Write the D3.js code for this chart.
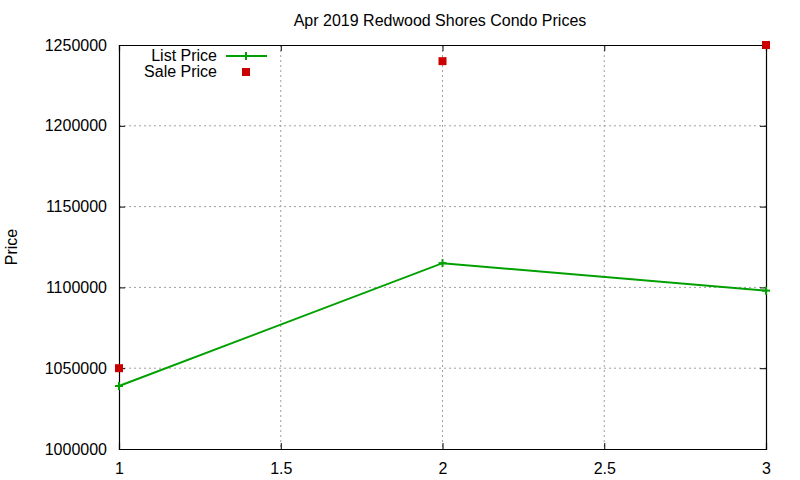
<!DOCTYPE html>
<html>
<head>
<meta charset="utf-8">
<script src="https://cdn.jsdelivr.net/npm/d3@7"></script>
<style>
  body { margin: 0; background: #fff; }
  text { font-family: "Liberation Sans", Arial, sans-serif; fill: #000; }
</style>
</head>
<body>
<svg id="chart" width="800" height="480"></svg>
<script>
const title = 'Apr 2019 Redwood Shores Condo Prices';
const xValues = [1, 2, 3];
const listPrice = [1039000, 1115000, 1098000];
const salePrice = [1050000, 1240000, 1250000];
const xTicks = [1, 1.5, 2, 2.5, 3];
const yTicks = [1000000, 1050000, 1100000, 1150000, 1200000, 1250000];

const margin = { top: 45, right: 34, bottom: 31, left: 119 };
const width = 800 - margin.left - margin.right;
const height = 480 - margin.top - margin.bottom;

const svg = d3.select('#chart');
const g = svg.append('g').attr('transform', `translate(${margin.left},${margin.top})`);

const x = d3.scaleLinear().domain([1, 3]).range([0, width]);
const y = d3.scaleLinear().domain([1000000, 1250000]).range([height, 0]);

// grid
g.selectAll('.vgrid').data(xTicks.slice(1, -1)).join('line')
  .attr('x1', d => x(d)).attr('x2', d => x(d))
  .attr('y1', 0).attr('y2', height)
  .attr('stroke', '#a0a0a0').attr('stroke-dasharray', '2,3');
g.selectAll('.hgrid').data(yTicks.slice(1, -1)).join('line')
  .attr('y1', d => y(d)).attr('y2', d => y(d))
  .attr('x1', 0).attr('x2', width)
  .attr('stroke', '#a0a0a0').attr('stroke-dasharray', '2,3');

// axes with inward ticks, mirrored
const fmt = d3.format('d');
g.append('g').attr('transform', `translate(0,${height})`)
  .call(d3.axisBottom(x).tickValues(xTicks).tickSize(-6).tickPadding(14).tickFormat(d3.format('')));
g.append('g').call(d3.axisTop(x).tickValues(xTicks).tickSize(-6).tickFormat(''));
g.append('g').call(d3.axisLeft(y).tickValues(yTicks).tickSize(-6).tickPadding(12).tickFormat(fmt));
g.append('g').attr('transform', `translate(${width},0)`)
  .call(d3.axisRight(y).tickValues(yTicks).tickSize(-6).tickFormat(''));
g.selectAll('.domain').attr('stroke', '#000').attr('stroke-width', 1.2);
g.selectAll('.tick line').attr('stroke', '#000');
g.selectAll('.tick text').attr('font-size', 16).attr('font-family', '"Liberation Sans", Arial, sans-serif');

// list price line
const green = '#00a000';
const red = '#cc0000';
const line = d3.line().x((d, i) => x(xValues[i])).y(d => y(d));
g.append('path').datum(listPrice).attr('d', line)
  .attr('fill', 'none').attr('stroke', green).attr('stroke-width', 2);
const plus = (sel, cx, cy) => {
  sel.append('line').attr('x1', cx - 4).attr('x2', cx + 4).attr('y1', cy).attr('y2', cy)
    .attr('stroke', green).attr('stroke-width', 2);
  sel.append('line').attr('x1', cx).attr('x2', cx).attr('y1', cy - 4).attr('y2', cy + 4)
    .attr('stroke', green).attr('stroke-width', 2);
};
listPrice.forEach((v, i) => plus(g, x(xValues[i]), y(v)));

// sale price points
g.selectAll('.sale').data(salePrice).join('rect')
  .attr('x', (d, i) => x(xValues[i]) - 4).attr('y', d => y(d) - 4)
  .attr('width', 8).attr('height', 8).attr('fill', red);

// legend
svg.append('text').attr('x', 217).attr('y', 61).attr('text-anchor', 'end')
  .attr('font-size', 16).text('List Price');
svg.append('line').attr('x1', 226).attr('x2', 267).attr('y1', 56).attr('y2', 56)
  .attr('stroke', green).attr('stroke-width', 2);
plus(svg, 246, 56);
svg.append('text').attr('x', 217).attr('y', 77).attr('text-anchor', 'end')
  .attr('font-size', 16).text('Sale Price');
svg.append('rect').attr('x', 242).attr('y', 68).attr('width', 8).attr('height', 8).attr('fill', red);

// title and axis label
svg.append('text').attr('x', 440).attr('y', 26).attr('text-anchor', 'middle')
  .attr('font-size', 16).text(title);
svg.append('text').attr('transform', 'translate(17,247) rotate(-90)')
  .attr('text-anchor', 'middle').attr('font-size', 16).text('Price');
</script>
</body>
</html>
